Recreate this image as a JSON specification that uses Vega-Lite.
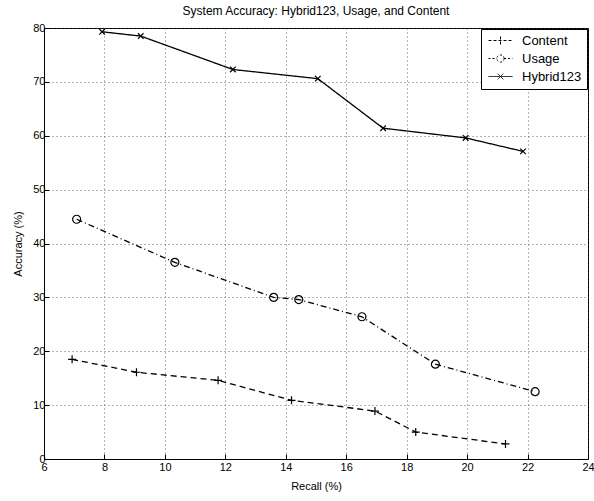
{
  "$schema": "https://vega.github.io/schema/vega-lite/v6.json",
  "width": 544,
  "height": 431,
  "autosize": {"type": "none"},
  "padding": {"left": 44, "top": 28, "right": 6, "bottom": 42},
  "background": "white",
  "config": {
    "font": "Liberation Sans",
    "view": {"stroke": "black", "strokeWidth": 1},
    "axis": {
      "labelFont": "Liberation Sans",
      "titleFont": "Liberation Sans",
      "labelFontSize": 11,
      "titleFontSize": 11,
      "titleFontWeight": "normal",
      "labelColor": "black",
      "titleColor": "black",
      "domainColor": "black",
      "tickColor": "black",
      "gridColor": "#444",
      "gridDash": [1, 3],
      "gridOpacity": 0.8,
      "tickSize": -5,
      "labelPadding": 4
    }
  },
  "title": {
    "text": "System Accuracy: Hybrid123, Usage, and Content",
    "fontSize": 12,
    "fontWeight": "normal",
    "font": "Liberation Sans",
    "color": "black",
    "offset": 4
  },
  "data": {
    "values": [
      {"series": "Hybrid123", "recall": 7.92, "accuracy": 79.3},
      {"series": "Hybrid123", "recall": 9.2, "accuracy": 78.5},
      {"series": "Hybrid123", "recall": 12.25, "accuracy": 72.3},
      {"series": "Hybrid123", "recall": 15.06, "accuracy": 70.6},
      {"series": "Hybrid123", "recall": 17.22, "accuracy": 61.4},
      {"series": "Hybrid123", "recall": 19.95, "accuracy": 59.6},
      {"series": "Hybrid123", "recall": 21.85, "accuracy": 57.1},
      {"series": "Usage", "recall": 7.08, "accuracy": 44.5},
      {"series": "Usage", "recall": 10.33, "accuracy": 36.5},
      {"series": "Usage", "recall": 13.6, "accuracy": 30.0},
      {"series": "Usage", "recall": 14.43, "accuracy": 29.6},
      {"series": "Usage", "recall": 16.52, "accuracy": 26.4},
      {"series": "Usage", "recall": 18.95, "accuracy": 17.6},
      {"series": "Usage", "recall": 22.25, "accuracy": 12.5},
      {"series": "Content", "recall": 6.93, "accuracy": 18.5},
      {"series": "Content", "recall": 9.06, "accuracy": 16.1},
      {"series": "Content", "recall": 11.76, "accuracy": 14.6},
      {"series": "Content", "recall": 14.19, "accuracy": 10.9},
      {"series": "Content", "recall": 16.95, "accuracy": 8.9},
      {"series": "Content", "recall": 18.3, "accuracy": 5.0},
      {"series": "Content", "recall": 21.27, "accuracy": 2.8}
    ]
  },
  "layer": [
    {
      "mark": {"type": "line", "color": "black", "strokeWidth": 1.3},
      "encoding": {
        "x": {
          "field": "recall", "type": "quantitative",
          "scale": {"domain": [6, 24], "nice": false, "zero": false},
          "axis": {"values": [6, 8, 10, 12, 14, 16, 18, 20, 22, 24], "title": "Recall (%)", "titlePadding": 8, "labelPadding": 7, "labelFlush": false}
        },
        "y": {
          "field": "accuracy", "type": "quantitative",
          "scale": {"domain": [0, 80], "nice": false},
          "axis": {"values": [0, 10, 20, 30, 40, 50, 60, 70, 80], "title": "Accuracy (%)", "titlePadding": 9, "labelFlush": false}
        },
        "detail": {"field": "series"},
        "strokeDash": {
          "field": "series", "type": "nominal",
          "scale": {"domain": ["Content", "Usage", "Hybrid123"], "range": [[6, 4], [6, 3, 1, 3], [1, 0]]},
          "legend": null
        }
      }
    },
    {
      "mark": {"type": "point", "color": "black", "filled": false, "strokeWidth": 1.2, "opacity": 1},
      "encoding": {
        "x": {"field": "recall", "type": "quantitative"},
        "y": {"field": "accuracy", "type": "quantitative"},
        "shape": {
          "field": "series", "type": "nominal",
          "scale": {"domain": ["Content", "Usage", "Hybrid123"], "range": ["M-1,0L1,0M0,-1L0,1", "circle", "M-0.7,-0.7L0.7,0.7M-0.7,0.7L0.7,-0.7"]},
          "legend": null
        },
        "size": {"value": 64}
      }
    },
    {
      "transform": [{"filter": "datum.recall < 0"}],
      "mark": {"type": "point", "color": "black", "filled": false, "strokeWidth": 1, "opacity": 1},
      "encoding": {
        "x": {"field": "recall", "type": "quantitative"},
        "y": {"field": "accuracy", "type": "quantitative"},
        "shape": {
          "field": "series", "type": "nominal",
          "scale": {"domain": ["Content", "Usage", "Hybrid123"], "range": ["M-1,0L5,0M2,-1L2,1", "M-1,0L1.1,0M2.9,0L5,0M2.9,0A0.9,0.9 0 1,1 1.1,0A0.9,0.9 0 1,1 2.9,0", "M-1,0L5,0M1.3,-0.7L2.7,0.7M1.3,0.7L2.7,-0.7"]},
          "legend": {
            "title": null, "orient": "top-right", "offset": 1,
            "strokeColor": "black", "fillColor": "white", "padding": 5,
            "labelFont": "Liberation Sans", "labelFontSize": 13, "labelColor": "black",
            "symbolSize": 64, "symbolStrokeColor": "black", "symbolStrokeWidth": 1,
            "rowPadding": 4, "labelOffset": 23
          }
        },
        "strokeDash": {
          "field": "series", "type": "nominal",
          "scale": {"domain": ["Content", "Usage", "Hybrid123"], "range": [[3, 2], [2, 2], [1, 0]]},
          "legend": {"title": null, "orient": "top-right"}
        }
      }
    }
  ],
  "resolve": {
    "scale": {"shape": "independent", "strokeDash": "independent"}
  }
}
